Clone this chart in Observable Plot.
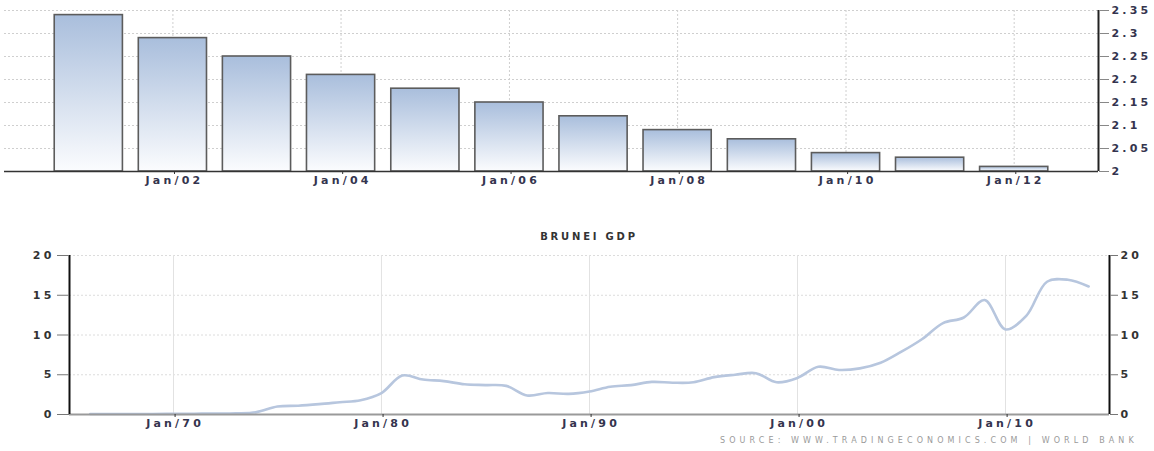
<!DOCTYPE html>
<html><head><meta charset="utf-8">
<script src="https://cdn.jsdelivr.net/npm/d3@7"></script>
<script src="https://cdn.jsdelivr.net/npm/@observablehq/plot@0.6"></script>
<style>
body{margin:0;background:#fff;font-family:"DejaVu Sans",sans-serif;}
#wrap{position:relative;width:1154px;height:451px;overflow:hidden;background:#fff;}
#top{position:absolute;left:0;top:0;}
#bottom{position:absolute;left:0;top:245px;}
#title{position:absolute;top:231px;left:589px;transform:translateX(-50%);font-size:10px;font-weight:bold;letter-spacing:2.8px;color:#333;white-space:nowrap;}
#caption{position:absolute;top:436px;left:720px;font-size:8px;letter-spacing:4.1px;color:#9a9a9a;white-space:nowrap;}
</style>
</head><body>
<div id="wrap">
  <div id="top"></div>
  <div id="title">BRUNEI GDP</div>
  <div id="bottom"></div>
  <div id="caption">SOURCE: WWW.TRADINGECONOMICS.COM | WORLD BANK</div>
</div>
<script>
// ---- Top panel data ----
const barYears = [2001, 2002, 2003, 2004, 2005, 2006, 2007, 2008, 2009, 2010, 2011, 2012];
const barValues = [2.34, 2.29, 2.25, 2.21, 2.18, 2.15, 2.12, 2.09, 2.07, 2.04, 2.03, 2.01];
const topYTicks = [2, 2.05, 2.1, 2.15, 2.2, 2.25, 2.3, 2.35];
const topXTickYears = [2002, 2004, 2006, 2008, 2010, 2012];

// ---- Bottom panel data ----
const gdpYears = [1965,1966,1967,1968,1969,1970,1971,1972,1973,1974,1975,1976,1977,1978,1979,
  1980,1981,1982,1983,1984,1985,1986,1987,1988,1989,1990,1991,1992,1993,1994,1995,1996,1997,1998,1999,
  2000,2001,2002,2003,2004,2005,2006,2007,2008,2009,2010,2011,2012,2013];
const gdpValues = [0.06,0.06,0.07,0.07,0.08,0.1,0.12,0.15,0.3,1.0,1.1,1.3,1.55,1.8,2.7,
  4.9,4.4,4.2,3.8,3.7,3.6,2.4,2.7,2.6,2.9,3.5,3.7,4.1,4.0,4.05,4.7,5.0,5.2,4.05,4.6,
  6.0,5.6,5.8,6.5,7.9,9.5,11.5,12.2,14.4,10.7,12.4,16.7,16.95,16.1];
const bottomYTicks = [0, 5, 10, 15, 20];
const bottomXTickYears = [1970, 1980, 1990, 2000, 2010];

const yr = y => new Date(Date.UTC(y, 0, 1));
const fmtJan = d => "Jan/" + String(d.getUTCFullYear() % 100).padStart(2, "0");
const textStyle = {fontFamily: "DejaVu Sans", fontSize: "11px", fontWeight: "bold", letterSpacing: "3.2px", background: "#fff"};

// ---- Top bar chart ----
const bars = barYears.map((y, i) => ({date: yr(y), v: barValues[i]}));
const halfW = 148 * 864e5;
const topSvg = Plot.plot({
  width: 1154, height: 190,
  marginLeft: 4, marginRight: 56, marginTop: 10, marginBottom: 19,
  style: textStyle,
  x: {type: "utc", domain: [yr(2000), yr(2013)]},
  y: {domain: [2, 2.35]},
  marks: [
    Plot.gridY(topYTicks, {stroke: "#cfcfcf", strokeOpacity: 1, strokeDasharray: "2,2"}),
    Plot.gridX(topXTickYears.map(yr), {stroke: "#cfcfcf", strokeOpacity: 1, strokeDasharray: "2,2"}),
    Plot.rectY(bars, {
      x1: d => new Date(+d.date - halfW), x2: d => new Date(+d.date + halfW),
      y1: 2, y2: "v", fill: "url(#barGrad)", stroke: "#5c5c5c", strokeWidth: 1.6
    }),
    Plot.ruleY([2], {stroke: "#333", strokeWidth: 1.5}),
    Plot.ruleX([yr(2013)], {y1: 2, y2: 2.35, stroke: "#222", strokeWidth: 2}),
    Plot.axisY(topYTicks, {anchor: "right", label: null, tickSize: 10, tickPadding: 3, stroke: "#888", fill: "#34344e",
      tickFormat: d => String(d)}),
    Plot.axisX(topXTickYears.map(yr), {anchor: "bottom", label: null, tickSize: 3, tickPadding: 2, stroke: "#333", fill: "#34344e",
      dx: 1.6, tickFormat: fmtJan})
  ]
});
const defs = d3.select(topSvg).insert("defs", ":first-child");
const grad = defs.append("linearGradient").attr("id", "barGrad")
  .attr("x1", 0).attr("y1", 0).attr("x2", 0).attr("y2", 1);
grad.append("stop").attr("offset", "0%").attr("stop-color", "#a9bedc");
grad.append("stop").attr("offset", "100%").attr("stop-color", "#fbfcfe");
document.getElementById("top").appendChild(topSvg);

// ---- Bottom line chart ----
const gdpData = gdpYears.map((y, i) => ({date: new Date(Date.UTC(y, 11, 31)), v: gdpValues[i]}));
const bottomSvg = Plot.plot({
  width: 1154, height: 185,
  marginLeft: 69, marginRight: 45, marginTop: 10, marginBottom: 16,
  style: textStyle,
  x: {type: "utc", domain: [yr(1965), yr(2015)]},
  y: {domain: [0, 20]},
  marks: [
    Plot.gridY(bottomYTicks, {stroke: "#dcdcdc", strokeOpacity: 1, strokeDasharray: "2,2"}),
    Plot.gridX(bottomXTickYears.map(yr), {stroke: "#e2e2e2", strokeOpacity: 1}),
    Plot.line(gdpData, {x: "date", y: "v", curve: "catmull-rom", stroke: "#b7c6de", strokeWidth: 2.6}),
    Plot.ruleY([0], {stroke: "#9a9a9a", strokeWidth: 2}),
    Plot.ruleX([yr(1965), yr(2015)], {y1: 0, y2: 20, stroke: "#111", strokeWidth: 2}),
    Plot.axisY(bottomYTicks, {anchor: "left", label: null, tickSize: 12, tickPadding: 3, stroke: "#777", fill: "#333",
      tickFormat: d => String(d)}),
    Plot.axisY(bottomYTicks, {anchor: "right", label: null, tickSize: 8, tickPadding: 3, stroke: "#777", fill: "#333",
      tickFormat: d => String(d)}),
    Plot.axisX(bottomXTickYears.map(yr), {anchor: "bottom", label: null, tickSize: 3, tickPadding: 2, stroke: "#333", fill: "#34344e",
      dx: 1.6, tickFormat: fmtJan})
  ]
});
document.getElementById("bottom").appendChild(bottomSvg);
</script>
</body></html>
